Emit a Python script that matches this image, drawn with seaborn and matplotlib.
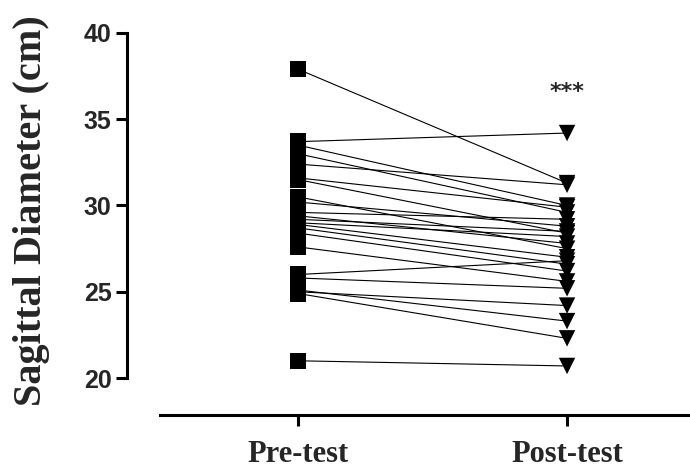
import numpy as np
import pandas as pd
import seaborn as sns
import matplotlib.pyplot as plt

# sagittal diameter per subject (cm)
pre_test = [37.9, 33.7, 33.5, 33.0, 32.4, 31.6, 31.5, 30.2, 29.6, 29.4, 29.0, 28.9,
            28.7, 28.4, 30.5, 29.2, 27.6, 25.8, 25.0, 25.1, 24.9, 26.0, 21.0]
post_test = [31.3, 34.2, 30.0, 29.6, 31.2, 29.9, 28.4, 28.8, 29.2, 27.8, 28.2, 27.0,
             26.6, 26.2, 27.5, 28.5, 25.6, 25.2, 24.2, 23.3, 22.3, 26.8, 20.7]
groups = ['Pre-test', 'Post-test']

n = len(pre_test)
df = pd.DataFrame({
    'subject': list(range(n)) * 2,
    'test': [groups[0]] * n + [groups[1]] * n,
    'value': pre_test + post_test,
})
df['pos'] = df['test'].map({g: i for i, g in enumerate(groups)})

sns.set_style('white')
fig = plt.figure(figsize=(6.9, 4.71), dpi=100)
ax = fig.add_axes([0.184, 0.119, 0.816, 0.811])

sns.lineplot(data=df, x='pos', y='value', units='subject', estimator=None,
             color='black', lw=0.8, ax=ax, legend=False)
sns.scatterplot(data=df, x='pos', y='value', style='test',
                markers={'Pre-test': 's', 'Post-test': 'v'}, color='black',
                s=140, edgecolor='black', linewidth=0, ax=ax, legend=False, zorder=3)

ax.set_xlim(-0.636, 1.457)
ax.set_ylim(17.86, 40)
ax.set_yticks([20, 25, 30, 35, 40])
ax.set_xticks([0, 1])
ax.set_xticklabels(groups, family='Liberation Serif', fontweight='bold', fontsize=22)
for lbl in ax.get_yticklabels():
    lbl.set_family('Liberation Sans')
    lbl.set_fontweight('bold')
    lbl.set_fontsize(18)

for side in ['top', 'right']:
    ax.spines[side].set_visible(False)
for side in ['left', 'bottom']:
    ax.spines[side].set_linewidth(2.2)
    ax.spines[side].set_color('black')
ax.spines['left'].set_bounds(20, 40)
ax.spines['bottom'].set_bounds(-0.513, 1.457)
ax.tick_params(axis='both', direction='out', length=8, width=2.2, color='black',
               left=True, bottom=True)
ax.tick_params(axis='x', pad=10)
ax.tick_params(axis='y', pad=3)

ax.set_xlabel('')
ax.set_ylabel('Sagittal Diameter (cm)', family='Liberation Serif', fontweight='bold',
              fontsize=29)
ax.yaxis.set_label_coords(-0.137, 0.534)

ax.text(1, 36.6, '***', ha='center', va='center', fontsize=16, fontweight='bold')

fig.savefig('out.png', dpi=100)
